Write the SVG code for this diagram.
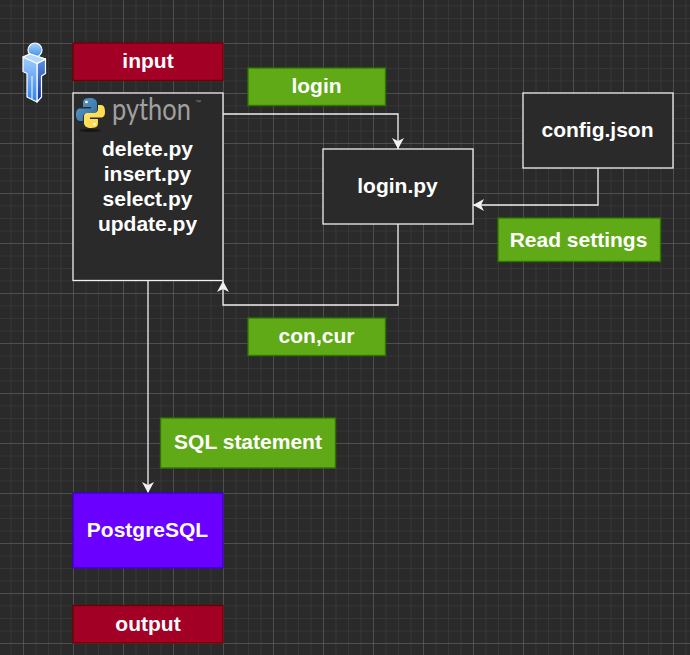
<svg xmlns="http://www.w3.org/2000/svg" width="690" height="655" viewBox="0 0 690 655">
<defs>
<style>
.t{font-family:"Liberation Sans",Arial,sans-serif;font-weight:700;font-size:21px;fill:#fff;text-anchor:middle}
.box{fill:#2a2a2a;stroke:#f0f0f0;stroke-width:1.3}
.red{fill:#a20025;stroke:#6f0000;stroke-width:1.3}
.green{fill:#60a917;stroke:#2d7600;stroke-width:1.3}
.con{fill:none;stroke:#f0f0f0;stroke-width:1.3}
</style>
<pattern id="minor" width="12.5" height="12.5" patternUnits="userSpaceOnUse" patternTransform="translate(10.5 5.5)">
<path d="M0 0H12.5M0 0V12.5" fill="none" stroke="#424242" stroke-width="1"/>
</pattern>
<pattern id="major" width="50" height="50" patternUnits="userSpaceOnUse" patternTransform="translate(23 43)">
<path d="M0 0H50M0 0V50" fill="none" stroke="#666666" stroke-width="1"/>
</pattern>
<marker id="arrow" markerUnits="userSpaceOnUse" markerWidth="14" markerHeight="14" refX="11" refY="6.5" orient="auto">
<path d="M0 0.5L11 6.5L0 12.5L3 6.5Z" fill="#f0f0f0"/>
</marker>
<linearGradient id="body" x1="0" y1="0" x2="0" y2="1"><stop offset="0" stop-color="#a8d2ff"/><stop offset="1" stop-color="#2f80f0"/></linearGradient>
<linearGradient id="side" x1="0" y1="0" x2="0" y2="1"><stop offset="0" stop-color="#5a90e0"/><stop offset="1" stop-color="#0d2f9c"/></linearGradient>
<linearGradient id="head" x1="0" y1="0" x2="0" y2="1"><stop offset="0" stop-color="#a8d2ff"/><stop offset="1" stop-color="#3d8fe8"/></linearGradient>
<linearGradient id="pyb" x1="0" y1="0" x2="1" y2="1"><stop offset="0" stop-color="#5a9fd4"/><stop offset="1" stop-color="#306998"/></linearGradient>
<linearGradient id="pyy" x1="0" y1="0" x2="1" y2="1"><stop offset="0" stop-color="#ffe873"/><stop offset="1" stop-color="#ffd43b"/></linearGradient>
</defs>
<rect id="background" width="690" height="655" fill="#2a2a2a"/>
<rect width="690" height="655" fill="url(#minor)"/>
<rect width="690" height="655" fill="url(#major)"/>

<g id="connectors">
<path class="con" d="M223 114H398V149" marker-end="url(#arrow)"/>
<path class="con" d="M398 224V305H223V281" marker-end="url(#arrow)"/>
<path class="con" d="M598 168V205H473" marker-end="url(#arrow)"/>
<path class="con" d="M148 281V493" marker-end="url(#arrow)"/>
</g>

<g id="actor">
<circle cx="35" cy="50" r="7" fill="url(#head)" stroke="#fff" stroke-width="1.2"/>
<path d="M37 63.500L45.500 59V73.500L41.500 76V97L37 102Z" fill="url(#side)" stroke="#fff" stroke-width="1.2" stroke-linejoin="round"/>
<path d="M23 57L30 54L45.500 59L37 63.500V102L27 97V73.500L23 71.500Z" fill="url(#body)" stroke="#fff" stroke-width="1.2" stroke-linejoin="round"/>
<path d="M23 57L37 63.500L45.500 59L30 54Z" fill="#b5d8ff" stroke="#fff" stroke-width="1.2" stroke-linejoin="round"/>
<path d="M32 76V99" stroke="#fff" stroke-width="1"/>
</g>

<g id="input"><rect class="red" x="73" y="43" width="150" height="37.500"/><text class="t" x="148" y="68">input</text></g>

<g id="python">
<rect class="box" x="73" y="93" width="150" height="187.500"/>
<ellipse cx="90" cy="130.500" rx="11" ry="1.500" fill="#161616"/>
<path d="M90 98C83 98 83 101 83 104V107H91V108.500H80C77 108.500 76 111 76 114C76 118 77 121 80 121H83V117C83 114.500 85 113 87 113H94C96 113 97 111.500 97 110V103C97 100 94 98 90 98Z" fill="url(#pyb)"/>
<circle cx="86.500" cy="102" r="1.300" fill="#fff"/>
<path d="M91 128C98 128 98 125 98 122V119H90V117.500H101C104 117.500 105 115 105 112C105 108 104 105 101 105H98V109C98 111.500 96 113 94 113H87C85 113 84 114.500 84 116V123C84 126 87 128 91 128Z" fill="url(#pyy)"/>
<circle cx="94.500" cy="124" r="1.300" fill="#fff"/>
<text transform="translate(112 120) scale(.82 1)" font-family="Lato,'Open Sans',sans-serif" font-weight="400" font-size="31" fill="#a0a0a0">python</text>
<text x="195" y="103.500" font-family="'Liberation Sans',sans-serif" font-size="6" fill="#8a8a8a">™</text>
<text class="t" x="147.500" y="156">delete.py</text>
<text class="t" x="147.500" y="181">insert.py</text>
<text class="t" x="147.500" y="206">select.py</text>
<text class="t" x="147.500" y="231">update.py</text>
</g>

<g id="login-label"><rect class="green" x="248" y="68" width="137.500" height="37.500"/><text class="t" x="316.500" y="93">login</text></g>
<g id="login-py"><rect class="box" x="323" y="149" width="150" height="75"/><text class="t" x="397.500" y="193">login.py</text></g>
<g id="config"><rect class="box" x="523" y="93" width="150" height="75"/><text class="t" x="597.500" y="137">config.json</text></g>
<g id="read-settings"><rect class="green" x="498" y="218" width="162.500" height="43.500"/><text class="t" x="578.500" y="247">Read settings</text></g>
<g id="con-cur"><rect class="green" x="248" y="318" width="137.500" height="37.500"/><text class="t" x="316.500" y="343">con,cur</text></g>
<g id="sql"><rect class="green" x="160.500" y="418" width="175" height="50"/><text class="t" x="248" y="449">SQL statement</text></g>
<g id="postgres"><rect x="73" y="493" width="150" height="75" fill="#6a00ff" stroke="#3700cc" stroke-width="1.300"/><text class="t" x="147.500" y="537">PostgreSQL</text></g>
<g id="output"><rect class="red" x="73" y="605.500" width="150" height="37.500"/><text class="t" x="148" y="631">output</text></g>
</svg>
